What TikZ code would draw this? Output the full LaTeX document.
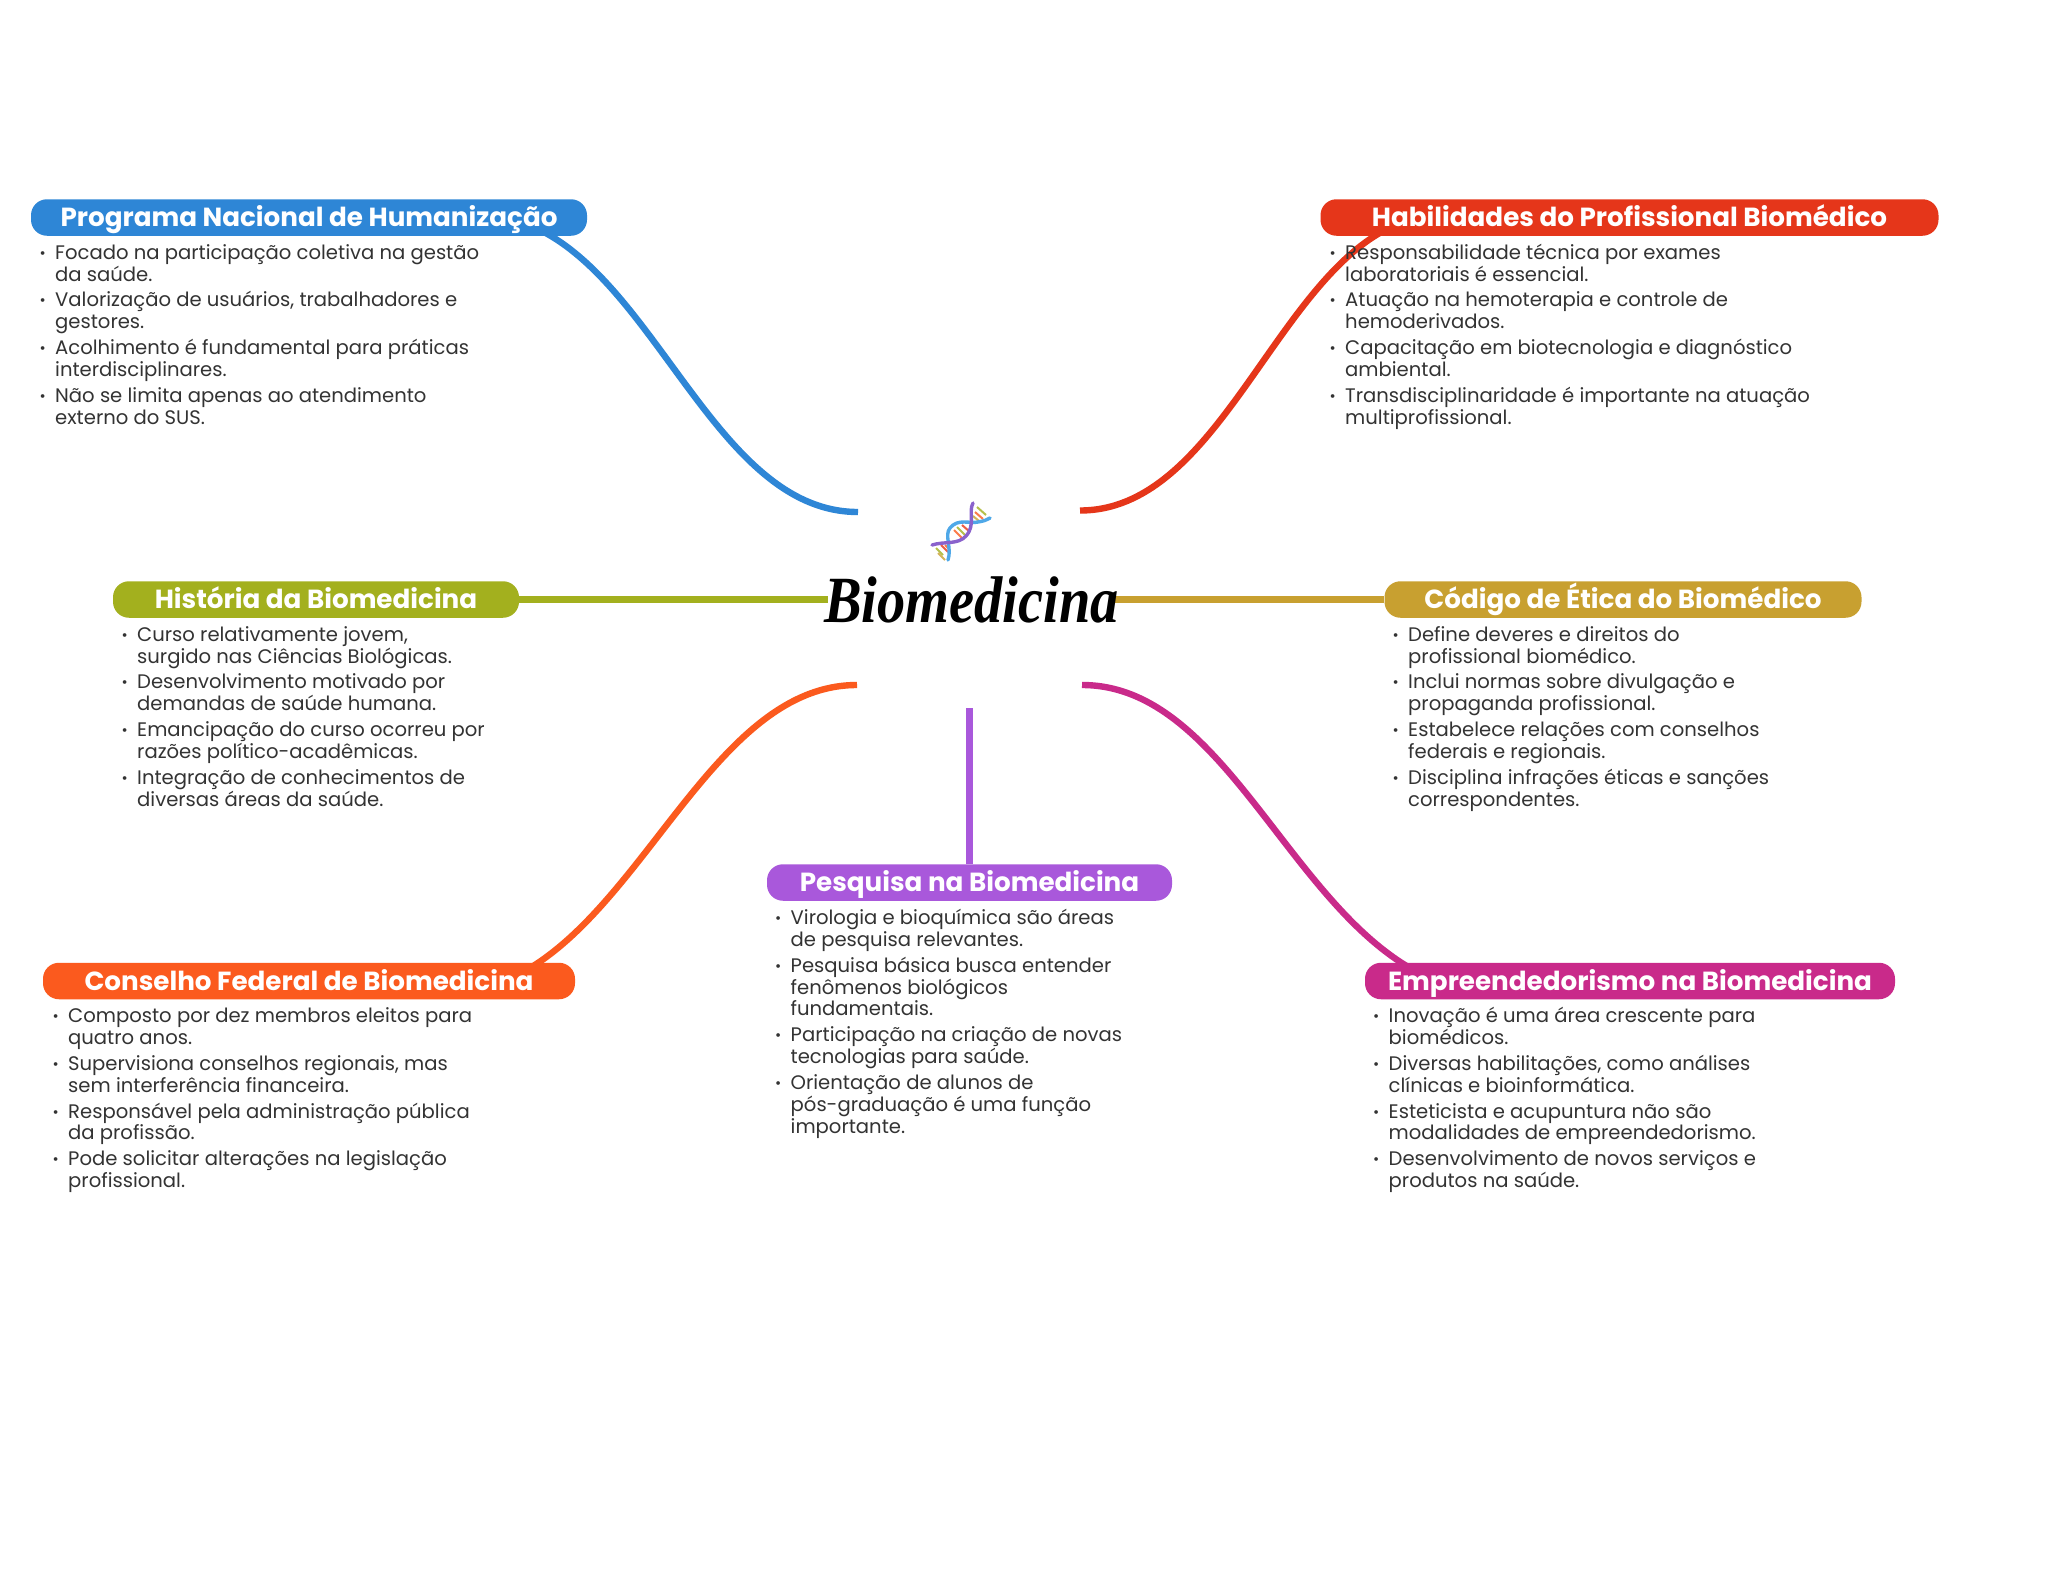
\documentclass[tikz,border=0pt]{standalone}
\usepackage{fontspec}
\setmainfont{Poppins}
\newfontfamily\titlefont{Liberation Serif}
\usetikzlibrary{backgrounds}
\definecolor{cblue}{HTML}{2E86D6}
\definecolor{cred}{HTML}{E5361A}
\definecolor{colive}{HTML}{A3B01E}
\definecolor{cgold}{HTML}{C8A030}
\definecolor{cpurple}{HTML}{A958DB}
\definecolor{corange}{HTML}{FB5A1E}
\definecolor{cmagenta}{HTML}{C92A8A}
\definecolor{bodyink}{HTML}{333333}
\definecolor{dnablue}{HTML}{4FA8E8}
\definecolor{dnapurple}{HTML}{8A62CC}
\newcommand{\bl}[1]{\makebox[0pt][r]{\raisebox{1pt}{\fontsize{15}{15}\selectfont •}\hspace{9.5pt}}#1}
\tikzset{
  pill/.style={fill=#1,rounded corners=16pt,inner sep=0pt,minimum height=36.5pt,text=white,
    text height=22pt,text depth=4pt,
    font=\fontsize{26.2}{30}\selectfont\bfseries},
  body/.style={anchor=base west,inner sep=0pt,align=left,text=bodyink,
    font=\fontsize{19.6}{21.9}\selectfont},
  conn/.style={line width=6.4pt,draw=#1},
  strand/.style={line width=3.4pt,line cap=round},
  rung/.style={line width=2pt,draw=#1,opacity=.8}
}
\newcommand{\gap}{\\[3.8pt]}
\begin{document}
\begin{tikzpicture}[x=1pt,y=-1pt]
\useasboundingbox (0,0) rectangle (2048,1569);
% pills
\node[pill=cblue,minimum width=556pt] (prog) at (309,217.5) {Programa Nacional de Humanização};
\node[pill=cred,minimum width=618pt] (habi) at (1629.5,217.5) {Habilidades do Profissional Biomédico};
\node[pill=colive,minimum width=406pt] (hist) at (316,599.5) {História da Biomedicina};
\node[pill=cgold,minimum width=477pt] (codi) at (1623,599.5) {Código de Ética do Biomédico};
\node[pill=cpurple,minimum width=405pt] (pesq) at (969.5,882.5) {Pesquisa na Biomedicina};
\node[pill=corange,minimum width=532pt] (cons) at (309,981) {Conselho Federal de Biomedicina};
\node[pill=cmagenta,minimum width=530pt] (empr) at (1630,981) {Empreendedorismo na Biomedicina};
% centre
\node[inner sep=0pt,anchor=base,xscale=.855,font=\titlefont\fontsize{66}{66}\selectfont\itshape\bfseries] (root) at (971.5,622) {Biomedicina};
% free ends
\coordinate (eblue) at (858,512);
\coordinate (ered) at (1080,510.5);
\coordinate (eolive) at (828,599.5);
\coordinate (egold) at (1111,599.5);
\coordinate (eorange) at (857,685);
\coordinate (emag) at (1082,685);
\coordinate (epurple) at (969.5,708);
\coordinate (sblue) at (540,230);
\coordinate (sred) at (1385,230);
\coordinate (sorange) at (530,968);
\coordinate (smag) at (1410,968);
\begin{scope}[on background layer]
\fill[white] (0,0) rectangle (2048,1569);
\draw[conn=cblue] (eblue) .. controls (720,512) and (660,290) .. (sblue);
\draw[conn=cred] (ered) .. controls (1215,510.5) and (1272,290) .. (sred);
\draw[conn=colive] (hist.east) -- (eolive);
\draw[conn=cgold] (codi.west) -- (egold);
\draw[conn=corange] (eorange) .. controls (720,685) and (650,895) .. (sorange);
\draw[conn=cmagenta] (emag) .. controls (1220,685) and (1285,895) .. (smag);
\draw[conn=cpurple] (epurple) -- (pesq.north -| epurple);
\end{scope}
% DNA icon
\draw[rung=colive] (977,507) -- (986,515);
\draw[rung=corange] (975,512) -- (983,519);
\draw[rung=cgold] (973,516) -- (979,521);
\draw[rung=colive] (957,527) -- (965,535);
\draw[rung=corange] (954,530) -- (962,538);
\draw[rung=cred] (962,525) -- (970,532);
\draw[rung=colive] (936,548) -- (943,555);
\draw[rung=cred] (941,545) -- (948,552);
\draw[rung=corange] (945,545) -- (950,550);
\draw[rung=cgold] (938,553) -- (945,560);
\draw[strand,color=dnablue] (948,560) .. controls (952,548) and (944,535) .. (950,528) .. controls (958,518) and (970,524) .. (978,522) .. controls (984,521) and (987,520) .. (990,518);
\draw[strand,color=dnapurple] (973,503) .. controls (968,512) and (976,525) .. (966,536) .. controls (958,545) and (945,541) .. (932,545);
% bodies
\node[body] (t1) at (55,424) {\bl{Focado na participação coletiva na gestão}\\da saúde.\gap
\bl{Valorização de usuários, trabalhadores e}\\gestores.\gap
\bl{Acolhimento é fundamental para práticas}\\interdisciplinares.\gap
\bl{Não se limita apenas ao atendimento}\\externo do SUS.};
\node[body] (t2) at (1345,424) {\bl{Responsabilidade técnica por exames}\\laboratoriais é essencial.\gap
\bl{Atuação na hemoterapia e controle de}\\hemoderivados.\gap
\bl{Capacitação em biotecnologia e diagnóstico}\\ambiental.\gap
\bl{Transdisciplinaridade é importante na atuação}\\multiprofissional.};
\node[body] (t3) at (137,806) {\bl{Curso relativamente jovem,}\\surgido nas Ciências Biológicas.\gap
\bl{Desenvolvimento motivado por}\\demandas de saúde humana.\gap
\bl{Emancipação do curso ocorreu por}\\razões político-acadêmicas.\gap
\bl{Integração de conhecimentos de}\\diversas áreas da saúde.};
\node[body] (t4) at (1408,806) {\bl{Define deveres e direitos do}\\profissional biomédico.\gap
\bl{Inclui normas sobre divulgação e}\\propaganda profissional.\gap
\bl{Estabelece relações com conselhos}\\federais e regionais.\gap
\bl{Disciplina infrações éticas e sanções}\\correspondentes.};
\node[body] (t5) at (790.5,1133) {\bl{Virologia e bioquímica são áreas}\\de pesquisa relevantes.\gap
\bl{Pesquisa básica busca entender}\\fenômenos biológicos\\fundamentais.\gap
\bl{Participação na criação de novas}\\tecnologias para saúde.\gap
\bl{Orientação de alunos de}\\pós-graduação é uma função\\importante.};
\node[body] (t6) at (68,1187.5) {\bl{Composto por dez membros eleitos para}\\quatro anos.\gap
\bl{Supervisiona conselhos regionais, mas}\\sem interferência financeira.\gap
\bl{Responsável pela administração pública}\\da profissão.\gap
\bl{Pode solicitar alterações na legislação}\\profissional.};
\node[body] (t7) at (1388.5,1187.5) {\bl{Inovação é uma área crescente para}\\biomédicos.\gap
\bl{Diversas habilitações, como análises}\\clínicas e bioinformática.\gap
\bl{Esteticista e acupuntura não são}\\modalidades de empreendedorismo.\gap
\bl{Desenvolvimento de novos serviços e}\\produtos na saúde.};
\end{tikzpicture}
\end{document}
